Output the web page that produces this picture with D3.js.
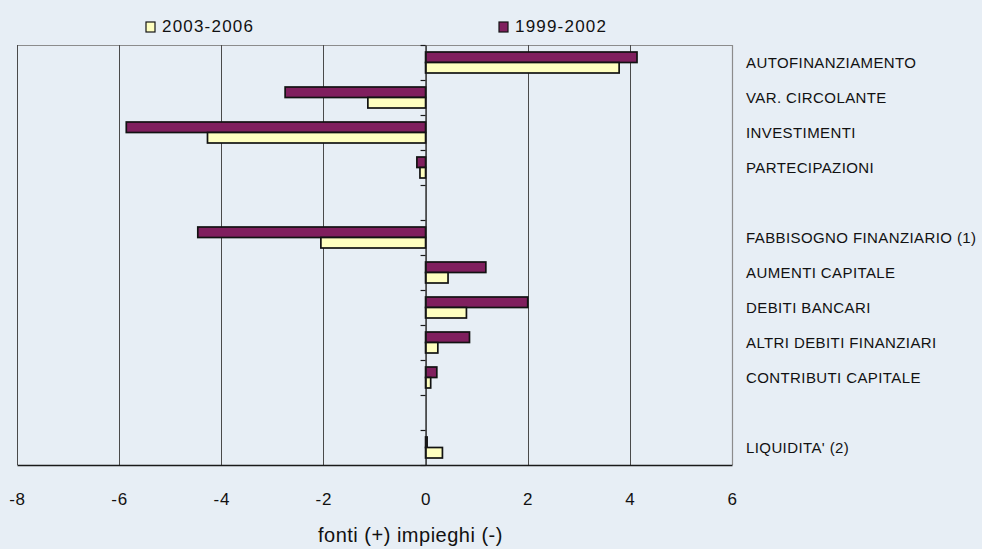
<!DOCTYPE html>
<html>
<head>
<meta charset="utf-8">
<script src="https://cdn.jsdelivr.net/npm/d3@7"></script>
<style>
  html, body { margin: 0; padding: 0; background: #e7eef5; }
  svg { display: block; }
  svg text { font-family: "Liberation Sans", Arial, sans-serif; }
</style>
</head>
<body>
<svg id="chart" width="982" height="549"></svg>
<script>
// Voci del rendiconto finanziario (righe vuote = separatori)
const categories = [
  "AUTOFINANZIAMENTO",
  "VAR. CIRCOLANTE",
  "INVESTIMENTI",
  "PARTECIPAZIONI",
  "",
  "FABBISOGNO FINANZIARIO (1)",
  "AUMENTI CAPITALE",
  "DEBITI BANCARI",
  "ALTRI DEBITI FINANZIARI",
  "CONTRIBUTI CAPITALE",
  "",
  "LIQUIDITA' (2)"
];
const series = ["1999-2002", "2003-2006"];
const values9902 = [4.14, -2.75, -5.86, -0.17, null, -4.46, 1.18, 2.00, 0.86, 0.22, null, 0.03];
const values0306 = [3.79, -1.13, -4.27, -0.11, null, -2.05, 0.44, 0.80, 0.24, 0.10, null, 0.33];
const xTicks = [-8, -6, -4, -2, 0, 2, 4, 6];
const legendOrder = ["2003-2006", "1999-2002"];

const colors = { "1999-2002": "#801f5e", "2003-2006": "#ffffc0" };
const seriesValues = { "1999-2002": values9902, "2003-2006": values0306 };

const svg = d3.select("#chart");
const plot = { left: 17, right: 732, top: 45, bottom: 465 };

const x = d3.scaleLinear().domain([-8, 6]).range([plot.left, plot.right]);
const y = d3.scaleBand()
  .domain(d3.range(categories.length))
  .range([plot.top, plot.bottom])
  .paddingInner(0.4)
  .paddingOuter(0.2);
const ySub = d3.scaleBand().domain(series).range([0, y.bandwidth()]);

// Frame: light top/right border
svg.append("line").attr("x1", plot.left).attr("x2", plot.right)
  .attr("y1", plot.top + 0.5).attr("y2", plot.top + 0.5)
  .attr("stroke", "#8c8c8c").attr("stroke-width", 1.2);
svg.append("line").attr("x1", plot.right + 0.5).attr("x2", plot.right + 0.5)
  .attr("y1", plot.top).attr("y2", plot.bottom)
  .attr("stroke", "#8c8c8c").attr("stroke-width", 1.2);

// Vertical gridlines
svg.append("g").selectAll("line")
  .data(xTicks.filter(t => t !== 0 && t !== 6))
  .join("line")
  .attr("x1", d => Math.round(x(d)) + 0.5).attr("x2", d => Math.round(x(d)) + 0.5)
  .attr("y1", plot.top).attr("y2", plot.bottom)
  .attr("stroke", "#4a4a4a").attr("stroke-width", 1);

// X axis at the bottom (labels only, tick marks hidden)
const xAxis = svg.append("g")
  .attr("transform", `translate(0,${plot.bottom})`)
  .call(d3.axisBottom(x).tickValues(xTicks).tickSize(0).tickPadding(28).tickFormat(d => String(d)));
xAxis.attr("font-family", null);
xAxis.select(".domain").attr("stroke", "#1a1a1a").attr("stroke-width", 1.6);
xAxis.selectAll("text")
  .attr("font-size", 17).attr("fill", "#111")
  .attr("letter-spacing", 0.8);

// Bars
const groups = svg.append("g").selectAll("g")
  .data(categories.map((c, i) => i))
  .join("g")
  .attr("transform", i => `translate(0,${y(i)})`);

groups.selectAll("rect")
  .data(i => series.map(s => ({ s, v: seriesValues[s][i] })).filter(d => d.v !== null))
  .join("rect")
  .attr("x", d => x(Math.min(0, d.v)))
  .attr("width", d => Math.abs(x(d.v) - x(0)))
  .attr("y", d => ySub(d.s))
  .attr("height", ySub.bandwidth())
  .attr("fill", d => colors[d.s])
  .attr("stroke", "#121212")
  .attr("stroke-width", 1.7);

// Zero axis with category ticks
const zeroAxis = svg.append("g")
  .attr("transform", `translate(${x(0)},0)`)
  .call(d3.axisLeft(d3.scaleLinear().domain([0, categories.length]).range([plot.top, plot.bottom]))
    .tickValues(d3.range(categories.length + 1))
    .tickSize(5).tickSizeOuter(0).tickFormat(""));
zeroAxis.select(".domain").attr("stroke", "#1a1a1a").attr("stroke-width", 1.4);
zeroAxis.selectAll(".tick line").attr("stroke", "#1a1a1a").attr("stroke-width", 1.2);

// Category labels on the right
svg.append("g").selectAll("text")
  .data(categories.map((c, i) => ({ c, i })).filter(d => d.c !== ""))
  .join("text")
  .attr("x", 746)
  .attr("y", d => y(d.i) + y.bandwidth() / 2)
  .attr("dy", "0.36em")
  .attr("font-size", 15)
  .attr("letter-spacing", 0.4)
  .attr("fill", "#111")
  .text(d => d.c);

// Axis title
svg.append("text")
  .attr("x", 318).attr("y", 542)
  .attr("font-size", 20)
  .attr("letter-spacing", 0.5)
  .attr("fill", "#111")
  .text("fonti (+) impieghi (-)");

// Legend
const legendX = { "2003-2006": 146, "1999-2002": 499 };
const legend = svg.append("g").selectAll("g")
  .data(legendOrder)
  .join("g")
  .attr("transform", d => `translate(${legendX[d]},22)`);
legend.append("rect")
  .attr("width", 9).attr("height", 10)
  .attr("fill", d => colors[d])
  .attr("stroke", "#151515").attr("stroke-width", 1.2);
legend.append("text")
  .attr("x", 16).attr("y", 10)
  .attr("font-size", 17)
  .attr("letter-spacing", 1.2)
  .attr("fill", "#111")
  .text(d => d);
</script>
</body>
</html>
